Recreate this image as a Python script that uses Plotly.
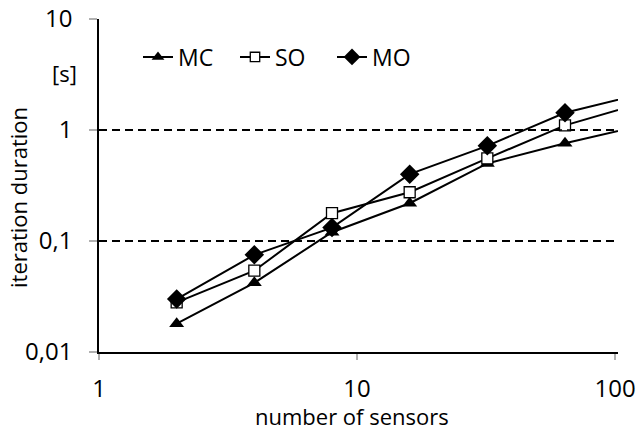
import plotly.graph_objects as go

# number of sensors; the last point only carries the line out to the axis edge
sensors = [2, 4, 8, 16, 32, 64, 128]
mc_duration = [0.018, 0.042, 0.12, 0.219, 0.50, 0.76, 1.10]
so_duration = [0.028, 0.054, 0.178, 0.275, 0.556, 1.10, 1.76]
mo_duration = [0.030, 0.075, 0.132, 0.40, 0.72, 1.43, 2.12]

y_tickvals = [0.01, 0.1, 1, 10]
y_ticktext = ["0,01", "0,1", "1", "10"]
x_tickvals = [1, 10, 100]
x_ticktext = ["1", "10", "100"]

FONT = "Open Sans"
W, H = 636, 432
L, R, T, B = 99, 18, 19, 80
PW, PH = W - L - R, H - T - B


def px_x(x):
    return (x - L) / PW


def px_y(y):
    return 1 - (y - T) / PH


def sizes(n, s):
    # no marker on the extension point
    return [s] * (n - 1) + [0]


n = len(sensors)
markers = {
    "MC": dict(symbol="triangle-up", size=sizes(n, 13), color="black",
               line=dict(width=0), opacity=1),
    "SO": dict(symbol="square", size=sizes(n, 11), color="white",
               line=dict(width=1.3, color="black"), opacity=1),
    "MO": dict(symbol="diamond", size=sizes(n, 15), color="black",
               line=dict(width=0), opacity=1),
}
values = {"MC": mc_duration, "SO": so_duration, "MO": mo_duration}

fig = go.Figure()
for name in ["MC", "SO", "MO"]:
    fig.add_trace(go.Scatter(
        x=sensors, y=values[name], name=name, mode="lines+markers",
        line=dict(color="black", width=2),
        marker=markers[name],
    ))

fig.update_layout(
    template="none",
    width=W, height=H,
    margin=dict(l=L, r=R, t=T, b=B, autoexpand=False),
    paper_bgcolor="white", plot_bgcolor="white",
    font=dict(family=FONT, size=22, color="black"),
    showlegend=True,
    legend=dict(orientation="h", x=px_x(138), y=px_y(57), xanchor="left", yanchor="middle",
                bgcolor="rgba(0,0,0,0)", font=dict(size=23), itemwidth=30,
                entrywidth=52, entrywidthmode="pixels", borderwidth=0),
    annotations=[
        dict(text="[s]", x=px_x(64), y=px_y(73), xref="paper", yref="paper",
             showarrow=False, font=dict(size=22), xanchor="center", yanchor="middle"),
        dict(text="iteration duration", x=px_x(18), y=px_y(198), xref="paper", yref="paper",
             showarrow=False, textangle=-90, font=dict(size=22),
             xanchor="center", yanchor="middle"),
        dict(text="number of sensors", x=px_x(352), y=px_y(416), xref="paper", yref="paper",
             showarrow=False, font=dict(size=22), xanchor="center", yanchor="middle",
             borderpad=0),
    ],
    shapes=[
        # dashed guide along the top decade
        dict(type="line", xref="paper", yref="y", x0=0, x1=1, y0=1, y1=1,
             line=dict(color="black", width=1.6, dash="8px,5px")),
    ],
)

fig.update_xaxes(
    type="log", range=[0, 2.0116], automargin=False,
    tickvals=x_tickvals, ticktext=x_ticktext,
    showgrid=False, showline=True, linecolor="black", linewidth=1.5,
    ticks="outside", ticklen=6, tickcolor="#b0b0b0", tickwidth=1.5,
    ticklabelstandoff=8,
    tickfont=dict(size=24), zeroline=False,
)
fig.update_yaxes(
    type="log", range=[-2, 1], automargin=False,
    tickvals=y_tickvals, ticktext=y_ticktext,
    showgrid=True, gridcolor="black", gridwidth=1.6, griddash="8px,5px",
    showline=True, linecolor="black", linewidth=1.5,
    ticks="outside", ticklen=8, tickcolor="#b0b0b0", tickwidth=1.5,
    ticklabelstandoff=12,
    tickfont=dict(size=24), zeroline=False,
)

fig.write_html("out.html")
